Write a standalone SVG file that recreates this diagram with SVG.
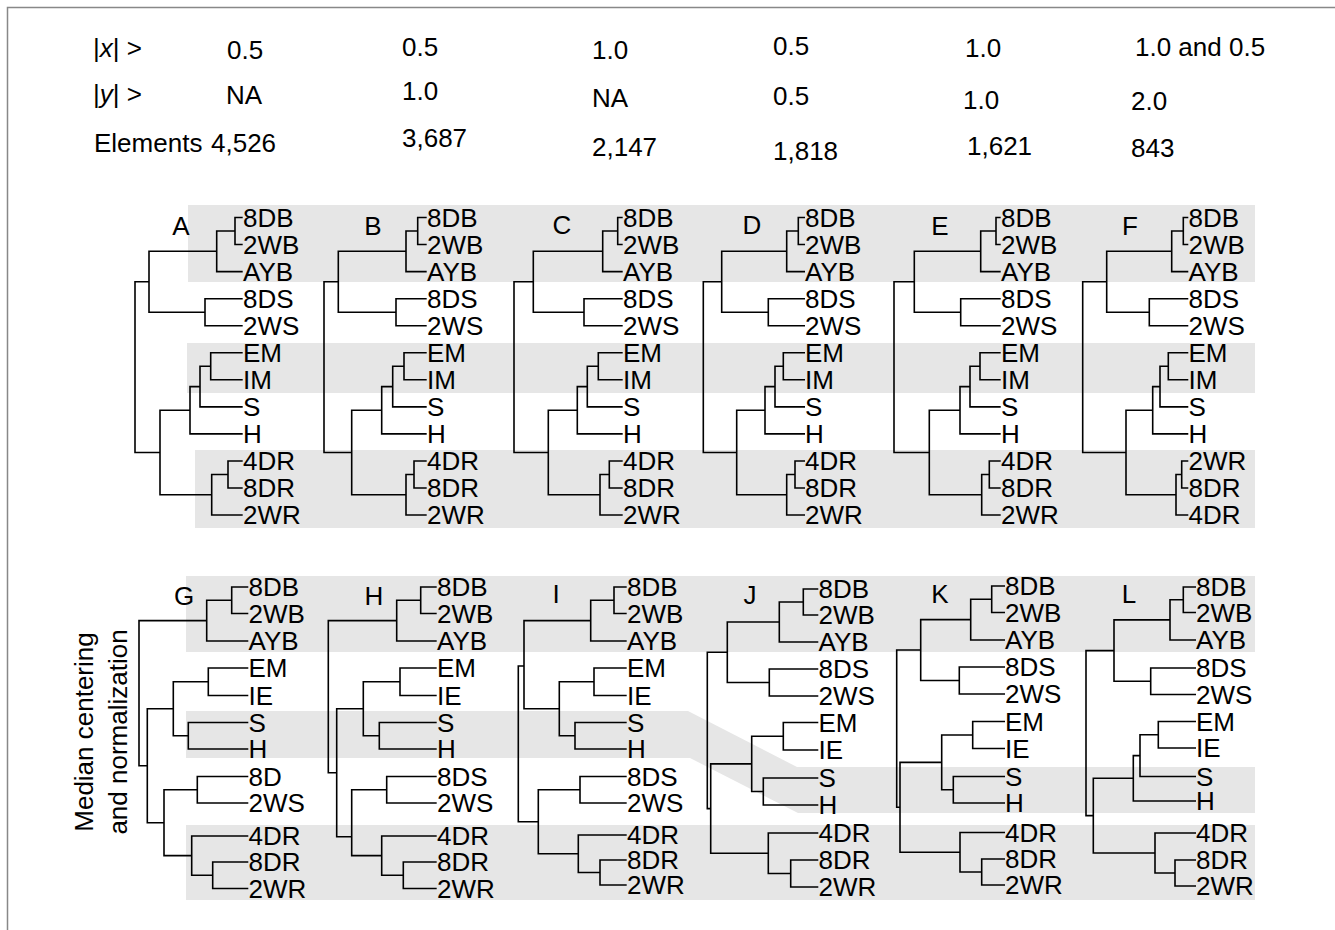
<svg xmlns="http://www.w3.org/2000/svg" width="1335" height="930" viewBox="0 0 1335 930">
<style>
text{font-family:"Liberation Sans",Arial,sans-serif;font-size:26px;fill:#000}
.band{fill:#e6e6e6}
.edge{fill:none;stroke:#000;stroke-width:1.6}
.frame{fill:none;stroke:#888;stroke-width:1.5}
.ttl{text-anchor:middle}
</style>
<rect width="1335" height="930" fill="#fff"/>
<path class="frame" d="M7.5 930 V7.5 H1335"/>
<g id="bands">
<rect class="band" x="188" y="205" width="1067" height="77"/>
<rect class="band" x="187" y="343" width="1068" height="50"/>
<rect class="band" x="195" y="450" width="1060" height="78"/>
<rect class="band" x="186" y="576" width="1069" height="76"/>
<polygon class="band" points="186,711 688,711 797,767 1255,767 1255,813 798,813 690,758 186,758"/>
<rect class="band" x="186" y="825" width="1069" height="75"/>
</g>
<g id="header">
<text x="93" y="57">|<tspan font-style="italic">x</tspan>| &gt;</text>
<text x="93" y="103">|<tspan font-style="italic">y</tspan>| &gt;</text>
<text x="94" y="152">Elements</text>
<text x="227" y="59">0.5</text><text x="226" y="104">NA</text><text x="211" y="152">4,526</text>
<text x="402" y="56">0.5</text><text x="402" y="100">1.0</text><text x="402" y="147">3,687</text>
<text x="592" y="59">1.0</text><text x="592" y="107">NA</text><text x="592" y="156">2,147</text>
<text x="773" y="55">0.5</text><text x="773" y="105">0.5</text><text x="773" y="160">1,818</text>
<text x="965" y="57">1.0</text><text x="963" y="109">1.0</text><text x="967" y="155">1,621</text>
<text x="1135" y="56">1.0 and 0.5</text><text x="1131" y="110">2.0</text><text x="1131" y="157">843</text>
</g>
<g id="side-label">
<text class="ttl" transform="translate(93,732) rotate(-90)">Median centering</text>
<text class="ttl" transform="translate(127,732) rotate(-90)">and normalization</text>
</g>
<g id="connectors">
<path id="edges-A" class="edge" d="M242.7 217.5 H235 V244.5 H242.7 M235 231 H216.7 V271.6 H242.7 M242.7 298.7 H205 V325.7 H242.7 M216.7 251.3 H149 V312.2 H205 M242.7 352.8 H210.7 V379.8 H242.7 M210.7 366.3 H200 V406.9 H242.7 M200 386.6 H190 V433.9 H242.7 M242.7 461 H228 V488 H242.7 M228 474.5 H211.7 V515 H242.7 M190 410.25 H160 V494.75 H211.7 M149 281.75 H135 V452.5 H160"/>
<path id="edges-B" class="edge" d="M426.7 217.5 H417.7 V244.5 H426.7 M417.7 231 H406 V271.6 H426.7 M426.7 298.7 H396 V325.7 H426.7 M406 251.3 H338.3 V312.2 H396 M426.7 352.8 H404 V379.8 H426.7 M404 366.3 H392.7 V406.9 H426.7 M392.7 386.6 H381.7 V433.9 H426.7 M426.7 461 H414 V488 H426.7 M414 474.5 H406 V515 H426.7 M381.7 410.25 H351.7 V494.75 H406 M338.3 281.75 H324 V452.5 H351.7"/>
<path id="edges-C" class="edge" d="M622.7 217.5 H617.7 V244.5 H622.7 M617.7 231 H602.7 V271.6 H622.7 M622.7 298.7 H584 V325.7 H622.7 M602.7 251.3 H533.3 V312.2 H584 M622.7 352.8 H598.3 V379.8 H622.7 M598.3 366.3 H587.3 V406.9 H622.7 M587.3 386.6 H577.3 V433.9 H622.7 M622.7 461 H609.3 V488 H622.7 M609.3 474.5 H600 V515 H622.7 M577.3 410.25 H548.3 V494.75 H600 M533.3 281.75 H514 V452.5 H548.3"/>
<path id="edges-D" class="edge" d="M805 217.5 H798.3 V244.5 H805 M798.3 231 H786.7 V271.6 H805 M805 298.7 H768.3 V325.7 H805 M786.7 251.3 H721.7 V312.2 H768.3 M805 352.8 H783.3 V379.8 H805 M783.3 366.3 H775 V406.9 H805 M775 386.6 H765 V433.9 H805 M805 461 H795 V488 H805 M795 474.5 H786.7 V515 H805 M765 410.25 H736.7 V494.75 H786.7 M721.7 281.75 H703.3 V452.5 H736.7"/>
<path id="edges-E" class="edge" d="M1000.7 217.5 H996 V244.5 H1000.7 M996 231 H980.7 V271.6 H1000.7 M1000.7 298.7 H960.7 V325.7 H1000.7 M980.7 251.3 H914.3 V312.2 H960.7 M1000.7 352.8 H980 V379.8 H1000.7 M980 366.3 H970 V406.9 H1000.7 M970 386.6 H960 V433.9 H1000.7 M1000.7 461 H989.3 V488 H1000.7 M989.3 474.5 H981.7 V515 H1000.7 M960 410.25 H929.3 V494.75 H981.7 M914.3 281.75 H894 V452.5 H929.3"/>
<path id="edges-F" class="edge" d="M1188.3 217.5 H1183.3 V244.5 H1188.3 M1183.3 231 H1171.7 V271.6 H1188.3 M1188.3 298.7 H1149.3 V325.7 H1188.3 M1171.7 251.3 H1106.7 V312.2 H1149.3 M1188.3 352.8 H1168.3 V379.8 H1188.3 M1168.3 366.3 H1160 V406.9 H1188.3 M1160 386.6 H1152.7 V433.9 H1188.3 M1188.3 461 H1181.7 V488 H1188.3 M1181.7 474.5 H1176 V515 H1188.3 M1152.7 410.25 H1126 V494.75 H1176 M1106.7 281.75 H1082.7 V452.5 H1126"/>
<path id="edges-G" class="edge" d="M248.3 587 H231.7 V613.5 H248.3 M231.7 600.25 H206.7 V641 H248.3 M248.3 668 H208.3 V695.5 H248.3 M248.3 722.5 H188.3 V749 H248.3 M208.3 681.75 H173.3 V735.75 H188.3 M248.3 776.5 H197.3 V803 H248.3 M248.3 862 H212.7 V888.5 H248.3 M248.3 836 H191.7 V875.25 H212.7 M197.3 789.75 H164 V855.6 H191.7 M173.3 708.75 H147.3 V822.7 H164 M206.7 620.6 H139 V765.7 H147.3"/>
<path id="edges-H" class="edge" d="M436.7 587 H420.7 V613.5 H436.7 M420.7 600.25 H396.7 V641 H436.7 M436.7 668 H400 V695.5 H436.7 M436.7 722.5 H379.3 V749 H436.7 M400 681.75 H363.3 V735.75 H379.3 M436.7 776.5 H386.7 V803 H436.7 M436.7 862 H403.3 V888.5 H436.7 M436.7 836 H381.7 V875.25 H403.3 M386.7 789.75 H351.7 V855.6 H381.7 M363.3 708.75 H336.7 V836.7 H351.7 M396.7 620.6 H328.3 V772.7 H336.7"/>
<path id="edges-I" class="edge" d="M626.7 587 H614 V613.5 H626.7 M614 600.25 H590.7 V641 H626.7 M626.7 668 H594 V695.5 H626.7 M626.7 722.5 H575 V749 H626.7 M594 681.75 H559.3 V735.75 H575 M590.7 620.6 H524 V708.75 H559.3 M626.7 776.5 H580 V803 H626.7 M626.7 860 H600 V885 H626.7 M626.7 835 H578.3 V872.5 H600 M580 789.75 H538.3 V853.75 H578.3 M524 666 H518.3 V821.75 H538.3"/>
<path id="edges-J" class="edge" d="M818.3 589 H803.3 V615 H818.3 M803.3 602 H779.3 V642 H818.3 M818.3 669 H769.3 V696 H818.3 M779.3 622 H727.3 V682.5 H769.3 M818.3 722.5 H783.3 V750 H818.3 M818.3 778 H763.3 V805 H818.3 M783.3 736.25 H751.7 V791.5 H763.3 M818.3 860 H790.7 V887 H818.3 M818.3 833 H768.3 V873.5 H790.7 M751.7 763.9 H710.7 V853.25 H768.3 M727.3 652.25 H707.3 V808.6 H710.7"/>
<path id="edges-K" class="edge" d="M1005 586 H991.7 V612.5 H1005 M991.7 599.25 H970.7 V640 H1005 M1005 667 H959.3 V694 H1005 M970.7 619.6 H920.7 V680.5 H959.3 M1005 721.5 H972.7 V748.5 H1005 M1005 776.5 H953.3 V803 H1005 M972.7 735 H941.7 V789.75 H953.3 M1005 859 H981.7 V885 H1005 M1005 832.5 H960 V872 H981.7 M941.7 762.4 H900 V852.25 H960 M920.7 650 H896.7 V807.3 H900"/>
<path id="edges-L" class="edge" d="M1196 587 H1183.3 V612.5 H1196 M1183.3 599.75 H1170 V640 H1196 M1196 668 H1150.7 V694.5 H1196 M1170 619.9 H1114 V681.25 H1150.7 M1196 721.5 H1158.3 V748 H1196 M1158.3 734.75 H1140 V776.5 H1196 M1140 755.6 H1133.3 V801 H1196 M1196 860 H1175 V886 H1196 M1196 833 H1155 V873 H1175 M1133.3 778.3 H1093.3 V853 H1155 M1114 650.6 H1086 V815.65 H1093.3"/>
</g>
<g id="tree-A">
<text class="ttl" x="181" y="235">A</text>
<text x="243" y="226.8">8DB</text><text x="243" y="253.8">2WB</text><text x="243" y="280.9">AYB</text><text x="243" y="308">8DS</text><text x="243" y="335">2WS</text><text x="243" y="362.1">EM</text><text x="243" y="389.1">IM</text><text x="243" y="416.2">S</text><text x="243" y="443.2">H</text><text x="243" y="470.3">4DR</text><text x="243" y="497.3">8DR</text><text x="243" y="524.3">2WR</text>
</g>
<g id="tree-B">
<text class="ttl" x="373" y="235">B</text>
<text x="427" y="226.8">8DB</text><text x="427" y="253.8">2WB</text><text x="427" y="280.9">AYB</text><text x="427" y="308">8DS</text><text x="427" y="335">2WS</text><text x="427" y="362.1">EM</text><text x="427" y="389.1">IM</text><text x="427" y="416.2">S</text><text x="427" y="443.2">H</text><text x="427" y="470.3">4DR</text><text x="427" y="497.3">8DR</text><text x="427" y="524.3">2WR</text>
</g>
<g id="tree-C">
<text class="ttl" x="562" y="234">C</text>
<text x="623" y="226.8">8DB</text><text x="623" y="253.8">2WB</text><text x="623" y="280.9">AYB</text><text x="623" y="308">8DS</text><text x="623" y="335">2WS</text><text x="623" y="362.1">EM</text><text x="623" y="389.1">IM</text><text x="623" y="416.2">S</text><text x="623" y="443.2">H</text><text x="623" y="470.3">4DR</text><text x="623" y="497.3">8DR</text><text x="623" y="524.3">2WR</text>
</g>
<g id="tree-D">
<text class="ttl" x="752" y="234">D</text>
<text x="805" y="226.8">8DB</text><text x="805" y="253.8">2WB</text><text x="805" y="280.9">AYB</text><text x="805" y="308">8DS</text><text x="805" y="335">2WS</text><text x="805" y="362.1">EM</text><text x="805" y="389.1">IM</text><text x="805" y="416.2">S</text><text x="805" y="443.2">H</text><text x="805" y="470.3">4DR</text><text x="805" y="497.3">8DR</text><text x="805" y="524.3">2WR</text>
</g>
<g id="tree-E">
<text class="ttl" x="940" y="235">E</text>
<text x="1001" y="226.8">8DB</text><text x="1001" y="253.8">2WB</text><text x="1001" y="280.9">AYB</text><text x="1001" y="308">8DS</text><text x="1001" y="335">2WS</text><text x="1001" y="362.1">EM</text><text x="1001" y="389.1">IM</text><text x="1001" y="416.2">S</text><text x="1001" y="443.2">H</text><text x="1001" y="470.3">4DR</text><text x="1001" y="497.3">8DR</text><text x="1001" y="524.3">2WR</text>
</g>
<g id="tree-F">
<text class="ttl" x="1130" y="235">F</text>
<text x="1188.5" y="226.8">8DB</text><text x="1188.5" y="253.8">2WB</text><text x="1188.5" y="280.9">AYB</text><text x="1188.5" y="308">8DS</text><text x="1188.5" y="335">2WS</text><text x="1188.5" y="362.1">EM</text><text x="1188.5" y="389.1">IM</text><text x="1188.5" y="416.2">S</text><text x="1188.5" y="443.2">H</text><text x="1188.5" y="470.3">2WR</text><text x="1188.5" y="497.3">8DR</text><text x="1188.5" y="524.3">4DR</text>
</g>
<g id="tree-G">
<text class="ttl" x="184" y="605">G</text>
<text x="248.5" y="596.3">8DB</text><text x="248.5" y="622.8">2WB</text><text x="248.5" y="650.3">AYB</text><text x="248.5" y="677.3">EM</text><text x="248.5" y="704.8">IE</text><text x="248.5" y="731.8">S</text><text x="248.5" y="758.3">H</text><text x="248.5" y="785.8">8D</text><text x="248.5" y="812.3">2WS</text><text x="248.5" y="845.3">4DR</text><text x="248.5" y="871.3">8DR</text><text x="248.5" y="897.8">2WR</text>
</g>
<g id="tree-H">
<text class="ttl" x="374" y="605">H</text>
<text x="437" y="596.3">8DB</text><text x="437" y="622.8">2WB</text><text x="437" y="650.3">AYB</text><text x="437" y="677.3">EM</text><text x="437" y="704.8">IE</text><text x="437" y="731.8">S</text><text x="437" y="758.3">H</text><text x="437" y="785.8">8DS</text><text x="437" y="812.3">2WS</text><text x="437" y="845.3">4DR</text><text x="437" y="871.3">8DR</text><text x="437" y="897.8">2WR</text>
</g>
<g id="tree-I">
<text class="ttl" x="556" y="603">I</text>
<text x="627" y="596.3">8DB</text><text x="627" y="622.8">2WB</text><text x="627" y="650.3">AYB</text><text x="627" y="677.3">EM</text><text x="627" y="704.8">IE</text><text x="627" y="731.8">S</text><text x="627" y="758.3">H</text><text x="627" y="785.8">8DS</text><text x="627" y="812.3">2WS</text><text x="627" y="844.3">4DR</text><text x="627" y="869.3">8DR</text><text x="627" y="894.3">2WR</text>
</g>
<g id="tree-J">
<text class="ttl" x="750" y="604">J</text>
<text x="818.5" y="598.3">8DB</text><text x="818.5" y="624.3">2WB</text><text x="818.5" y="651.3">AYB</text><text x="818.5" y="678.3">8DS</text><text x="818.5" y="705.3">2WS</text><text x="818.5" y="731.8">EM</text><text x="818.5" y="759.3">IE</text><text x="818.5" y="787.3">S</text><text x="818.5" y="814.3">H</text><text x="818.5" y="842.3">4DR</text><text x="818.5" y="869.3">8DR</text><text x="818.5" y="896.3">2WR</text>
</g>
<g id="tree-K">
<text class="ttl" x="940" y="603">K</text>
<text x="1005" y="595.3">8DB</text><text x="1005" y="621.8">2WB</text><text x="1005" y="649.3">AYB</text><text x="1005" y="676.3">8DS</text><text x="1005" y="703.3">2WS</text><text x="1005" y="730.8">EM</text><text x="1005" y="757.8">IE</text><text x="1005" y="785.8">S</text><text x="1005" y="812.3">H</text><text x="1005" y="841.8">4DR</text><text x="1005" y="868.3">8DR</text><text x="1005" y="894.3">2WR</text>
</g>
<g id="tree-L">
<text class="ttl" x="1129" y="603">L</text>
<text x="1196" y="596.3">8DB</text><text x="1196" y="621.8">2WB</text><text x="1196" y="649.3">AYB</text><text x="1196" y="677.3">8DS</text><text x="1196" y="703.8">2WS</text><text x="1196" y="730.8">EM</text><text x="1196" y="757.3">IE</text><text x="1196" y="785.8">S</text><text x="1196" y="810.3">H</text><text x="1196" y="842.3">4DR</text><text x="1196" y="869.3">8DR</text><text x="1196" y="895.3">2WR</text>
</g>
</svg>
